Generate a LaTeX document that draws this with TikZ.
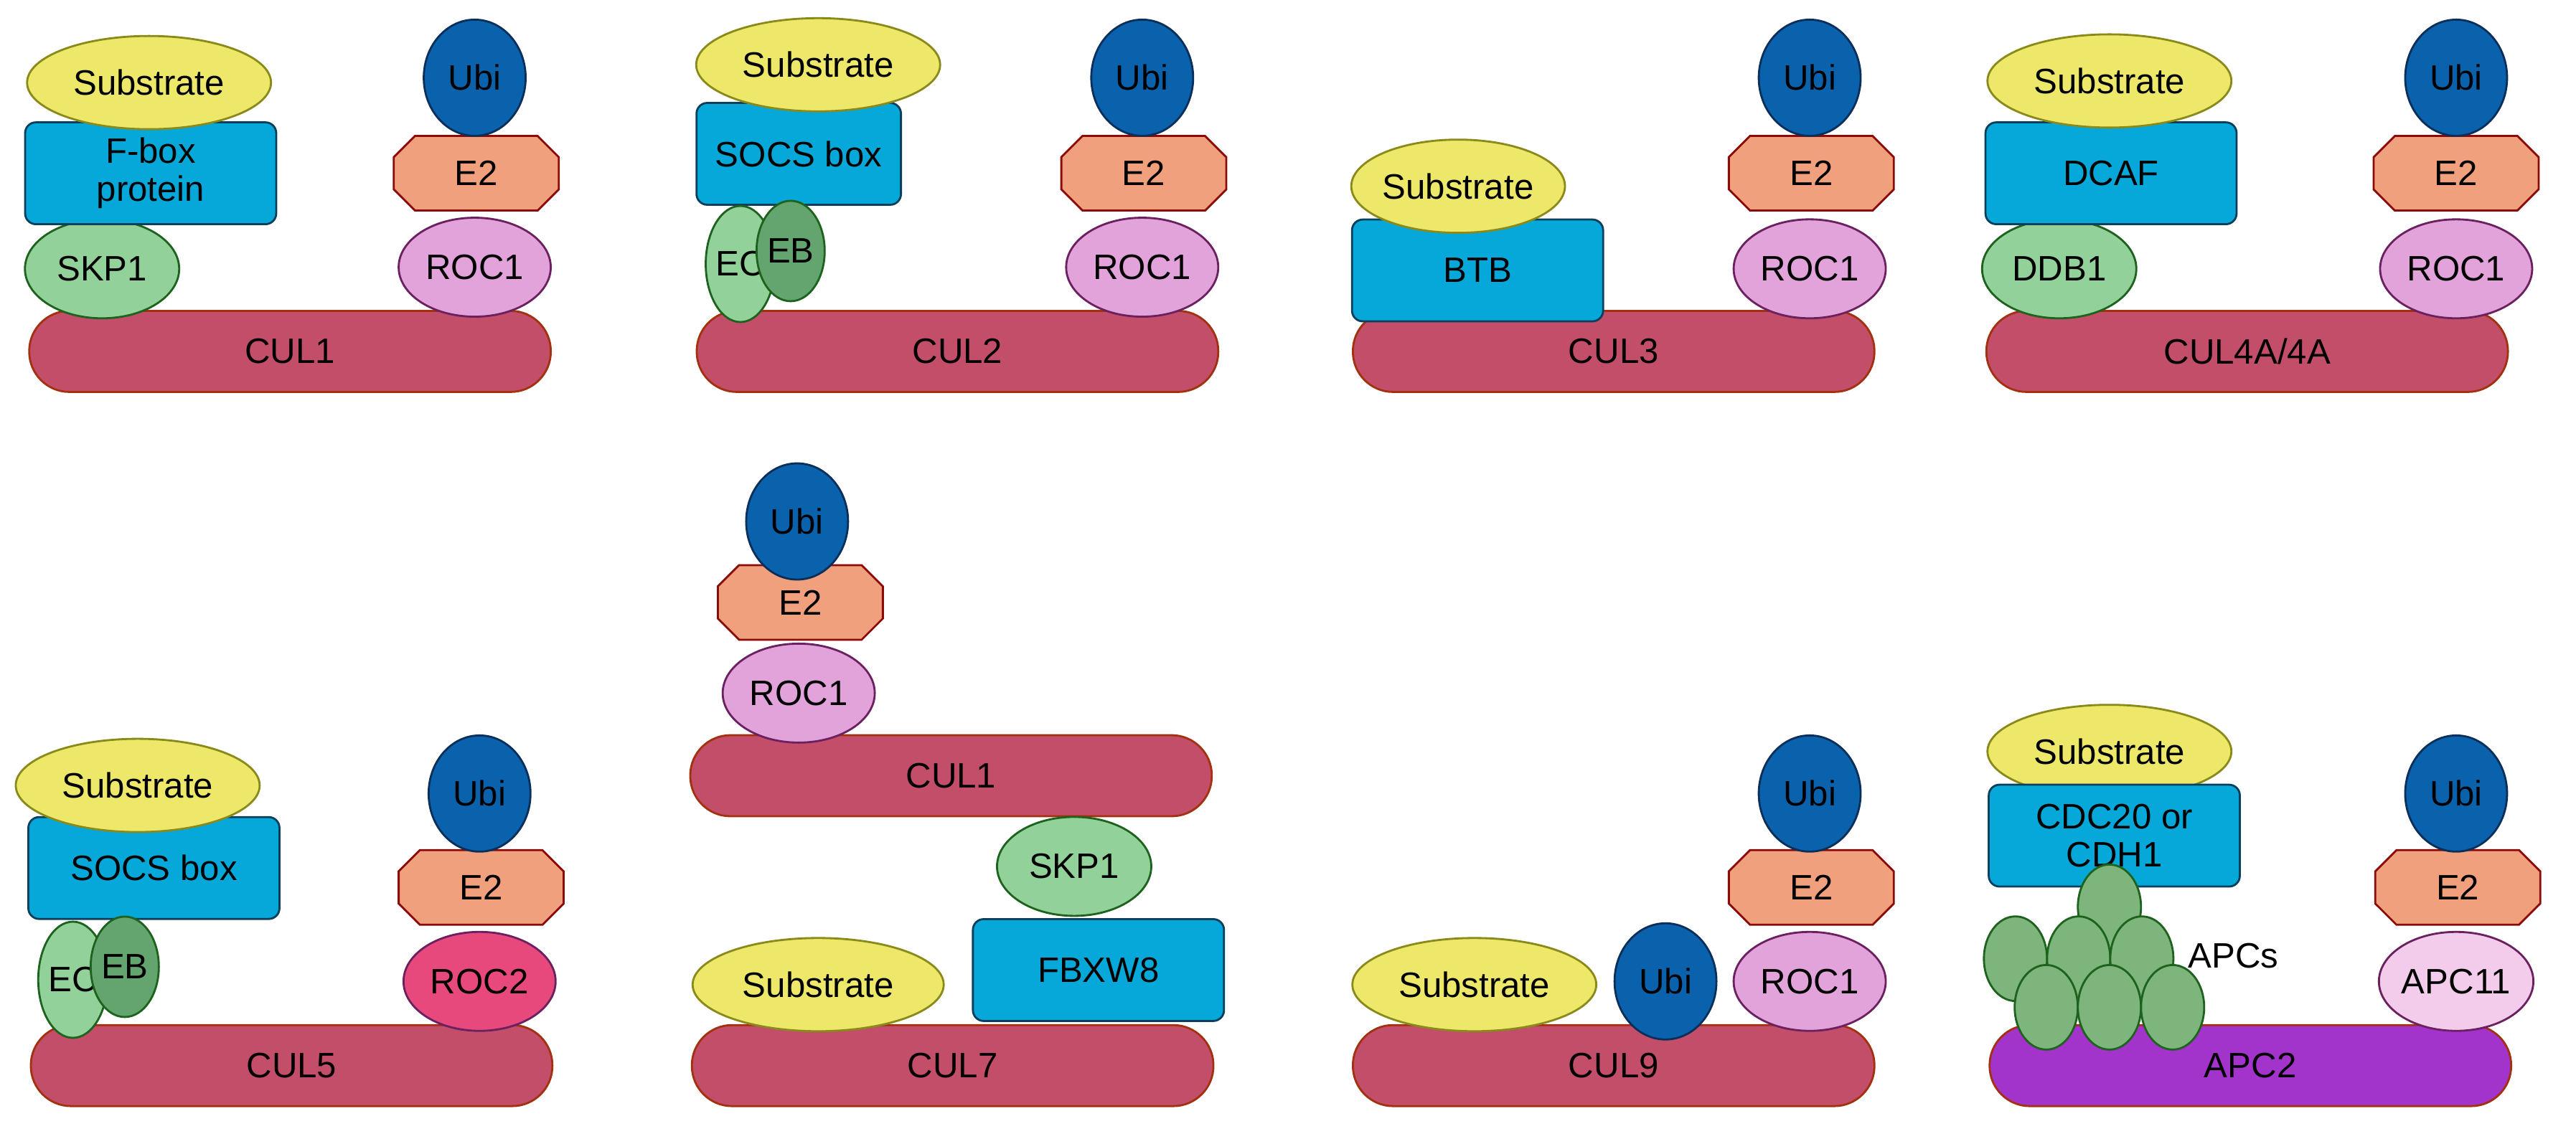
\documentclass[tikz,border=0pt]{standalone}
\usepackage{fontspec}
\setmainfont{Liberation Sans}
\usetikzlibrary{shapes.geometric,shapes.misc}
\definecolor{subfill}{HTML}{EDE76A}
\definecolor{subdraw}{HTML}{8A8A1A}
\definecolor{boxfill}{HTML}{05A8D8}
\definecolor{boxdraw}{HTML}{0B3F5C}
\definecolor{grnfill}{HTML}{92D29A}
\definecolor{grndark}{HTML}{64A46E}
\definecolor{apcfill}{HTML}{7DB57D}
\definecolor{grndraw}{HTML}{1D621D}
\definecolor{ubifill}{HTML}{0A62AC}
\definecolor{ubidraw}{HTML}{0A2F5A}
\definecolor{efill}{HTML}{F0A07C}
\definecolor{edraw}{HTML}{8B0A0A}
\definecolor{rocfill}{HTML}{E2A2DA}
\definecolor{rocdraw}{HTML}{6B2060}
\definecolor{culfill}{HTML}{C24E6A}
\definecolor{culdraw}{HTML}{A3300F}
\definecolor{apcbar}{HTML}{A234CC}
\definecolor{roctwo}{HTML}{E8497C}
\definecolor{apcelf}{HTML}{F2CCEA}

\begin{document}
\begin{tikzpicture}[x=0.02258cm, y=-0.02258cm, thick, font=\fontsize{14}{15}\selectfont, inner sep=0pt, align=center]
    \tikzset{cul/.style={draw=culdraw,fill=culfill,rounded corners=0.56cm,minimum width=7.27cm,minimum height=1.13cm},
             sub/.style={draw=subdraw,fill=subfill,ellipse,minimum width=3.4cm,minimum height=1.3cm},
             adaptor/.style={draw=boxdraw,fill=boxfill,rounded corners=0.15cm,minimum width=3.5cm,minimum height=1.42cm},
             link/.style={draw=grndraw,fill=grnfill,ellipse,minimum width=2.15cm,minimum height=1.38cm},
             elo/.style={draw=grndraw,fill=grnfill,ellipse,minimum width=0.95cm,minimum height=1.62cm},
             ebo/.style={draw=grndraw,fill=grndark,ellipse,minimum width=0.95cm,minimum height=1.4cm},
             apc/.style={draw=grndraw,fill=apcfill,ellipse,minimum width=0.88cm,minimum height=1.18cm},
             ubi/.style={draw=ubidraw,fill=ubifill,ellipse,minimum width=1.42cm,minimum height=1.62cm},
             etwo/.style={draw=edraw,fill=efill,chamfered rectangle,chamfered rectangle xsep=0.3cm,minimum width=2.3cm,minimum height=1.04cm},
             ring/.style={draw=rocdraw,fill=rocfill,ellipse,minimum width=2.12cm,minimum height=1.38cm}}
    \useasboundingbox (0,0) rectangle (1590,706);
    % CUL1
    \node[cul] (cul1) at (179,217) {CUL1};
    \node[link] (skp1) at (63,166) {SKP1};
    \node[adaptor] (fbox) at (93,107) {F-box\\protein};
    \node[sub] (sub1) at (92,51) {Substrate};
    \node[ring] (roc1) at (293,165) {ROC1};
    \node[etwo] (e2a) at (294,107) {E2};
    \node[ubi] (ubi1) at (293,48) {Ubi};
    % CUL2
    \node[cul] (cul2) at (591,217) {CUL2};
    \node[adaptor, minimum width=2.85cm] (socs2) at (493,95) {SOCS box};
    \node[sub] (sub2) at (505,40) {Substrate};
    \node[elo] (ec2) at (457,163) {EC};
    \node[ebo] (eb2) at (488,155) {EB};
    \node[ring] (roc2a) at (705,165) {ROC1};
    \node[etwo] (e2b) at (706,107) {E2};
    \node[ubi] (ubi2) at (705,48) {Ubi};
    % CUL3
    \node[cul] (cul3) at (996,217) {CUL3};
    \node[adaptor] (btb) at (912,167) {BTB};
    \node[sub, minimum width=2.95cm] (sub3) at (900,115) {Substrate};
    \node[ring] (roc3) at (1117,166) {ROC1};
    \node[etwo] (e2c) at (1118,107) {E2};
    \node[ubi] (ubi3) at (1117,48) {Ubi};
    % CUL4A/4A
    \node[cul] (cul4) at (1387,217) {CUL4A/4A};
    \node[link] (ddb1) at (1271,166) {DDB1};
    \node[adaptor] (dcaf) at (1303,107) {DCAF};
    \node[sub] (sub4) at (1302,50) {Substrate};
    \node[ring] (roc4) at (1516,166) {ROC1};
    \node[etwo] (e2d) at (1516,107) {E2};
    \node[ubi] (ubi4) at (1516,48) {Ubi};
    % CUL5
    \node[cul] (cul5) at (180,658) {CUL5};
    \node[adaptor] (socs5) at (95,536) {SOCS box};
    \node[sub] (sub5) at (85,485) {Substrate};
    \node[elo] (ec5) at (45,605) {EC};
    \node[ebo] (eb5) at (77,597) {EB};
    \node[ring, fill=roctwo] (rocb) at (296,606) {ROC2};
    \node[etwo] (e2e) at (297,548) {E2};
    \node[ubi] (ubi5) at (296,490) {Ubi};
    % CUL7 with CUL1
    \node[cul] (cul1b) at (587,479) {CUL1};
    \node[ring] (roc7) at (493,428) {ROC1};
    \node[etwo] (e2f) at (494,372) {E2};
    \node[ubi] (ubi7) at (492,322) {Ubi};
    \node[link] (skp7) at (663,535) {SKP1};
    \node[adaptor] (fbxw8) at (678,599) {FBXW8};
    \node[cul] (cul7) at (588,658) {CUL7};
    \node[sub, minimum width=3.5cm] (sub7) at (505,608) {Substrate};
    % CUL9
    \node[cul] (cul9) at (996,658) {CUL9};
    \node[sub] (sub9) at (910,608) {Substrate};
    \node[ubi] (ubi9b) at (1028,606) {Ubi};
    \node[ring] (roc9) at (1117,606) {ROC1};
    \node[etwo] (e2g) at (1118,548) {E2};
    \node[ubi] (ubi9) at (1117,490) {Ubi};
    % APC/C
    \node[cul, fill=apcbar] (apc2) at (1389,658) {APC2};
    \node[sub] (subc) at (1302,464) {Substrate};
    \node[adaptor] (cdc) at (1305,516) {CDC20 or\\CDH1};
    \node[apc] (apc0) at (1302,560) {};
    \foreach \i/\x in {1/1244,2/1283,3/1322}
        \node[apc] (apcm\i) at (\x,592) {};
    \foreach \i/\x in {1/1263,2/1302,3/1341}
        \node[apc] (apcb\i) at (\x,622) {};
    \node[anchor=west] (apcs) at (1350,590) {APCs};
    \node[ring, fill=apcelf] (apc11) at (1516,606) {APC11};
    \node[etwo] (e2h) at (1517,548) {E2};
    \node[ubi] (ubic) at (1516,490) {Ubi};
\end{tikzpicture}
\end{document}
